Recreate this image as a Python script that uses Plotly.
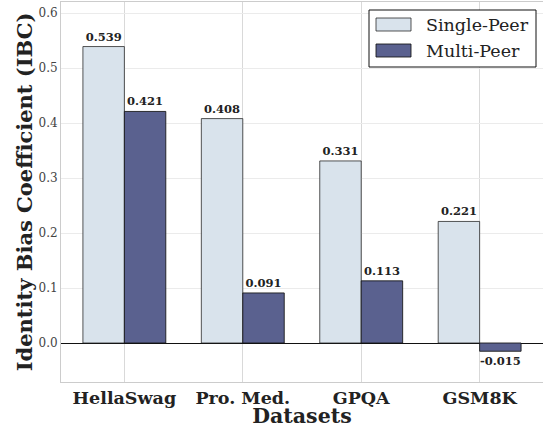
import plotly.graph_objects as go

categories = ["HellaSwag", "Pro. Med.", "GPQA", "GSM8K"]
single_peer = [0.539, 0.408, 0.331, 0.221]
multi_peer = [0.421, 0.091, 0.113, -0.015]
y_ticks = [0.0, 0.1, 0.2, 0.3, 0.4, 0.5, 0.6]
series_names = ["Single-Peer", "Multi-Peer"]
series_colors = ["#d9e3ec", "#5a618f"]

FONT = "DejaVu Serif"
W, H = 543, 428
ML, MR, MT, MB = 61, 0, 2, 46
PW, PH = W - ML - MR, H - MT - MB


def px_x(p):
    return (p - ML) / PW


def px_y(p):
    return (H - MB - p) / PH


fig = go.Figure()
for name, vals, col, edge in [
    (series_names[0], single_peer, series_colors[0], "rgba(30,30,30,0.75)"),
    (series_names[1], multi_peer, series_colors[1], "rgba(20,20,20,0.85)"),
]:
    fig.add_trace(go.Bar(
        name=name, x=categories, y=vals,
        marker=dict(color=col, line=dict(color=edge, width=1)),
        texttemplate="<b>%{y:.3f}</b>", textposition="outside",
        textfont=dict(family=FONT, size=11.5, color="#222222"), cliponaxis=False,
        showlegend=False,
    ))

# custom legend (matplotlib-like wide swatches)
shapes = [dict(type="rect", xref="paper", yref="paper",
               x0=px_x(369), x1=px_x(536), y0=px_y(67), y1=px_y(10),
               line=dict(color="#111111", width=1), fillcolor="white", layer="above")]
annotations = []
rows = [(18, 31), (44, 57)]
edges = ["rgba(30,30,30,0.75)", "rgba(20,20,20,0.85)"]
for (y0, y1), name, col, edge in zip(rows, series_names, series_colors, edges):
    shapes.append(dict(type="rect", xref="paper", yref="paper",
                       x0=px_x(376), x1=px_x(411), y0=px_y(y1), y1=px_y(y0),
                       line=dict(color=edge, width=1), fillcolor=col, layer="above"))
    annotations.append(dict(xref="paper", yref="paper", x=px_x(424), y=px_y((y0 + y1) / 2),
                            xanchor="left", yanchor="middle", text=name, showarrow=False,
                            font=dict(family=FONT, size=17.5, color="#222222")))

fig.update_layout(
    width=W, height=H,
    margin=dict(l=ML, r=MR, t=MT, b=MB),
    paper_bgcolor="white", plot_bgcolor="white",
    barmode="group", bargap=0.3, bargroupgap=0,
    font=dict(family=FONT, color="#222222"),
    showlegend=False,
    shapes=shapes, annotations=annotations,
)
fig.update_xaxes(
    tickmode="array", tickvals=categories,
    ticktext=["<b>%s</b>" % c for c in categories],
    tickfont=dict(family=FONT, size=17.5, color="#222222"),
    showgrid=True, gridcolor="#d9d9d9", gridwidth=1,
    showline=True, linecolor="#cccccc", linewidth=1, mirror=True,
    ticks="", range=[-0.535, 3.535],
    title=dict(text="<b>Datasets</b>", font=dict(family=FONT, size=20.5, color="#222222"), standoff=1),
    automargin=False,
)
fig.update_yaxes(
    range=[-0.0709, 0.62],
    tickmode="array", tickvals=y_ticks, ticktext=["%.1f" % v for v in y_ticks],
    tickfont=dict(family=FONT, size=12, color="#444444"),
    showgrid=True, gridcolor="#ebebeb", gridwidth=1,
    showline=True, linecolor="#cccccc", linewidth=1, mirror=True,
    zeroline=True, zerolinecolor="#111111", zerolinewidth=1,
    ticks="",
    title=dict(text="<b>Identity Bias Coefficient (IBC)</b>",
               font=dict(family=FONT, size=21, color="#222222"), standoff=0),
    automargin=False,
)

fig.write_html("out.html", config={"displayModeBar": False},
               post_script="document.body.style.margin='0';document.body.style.overflow='hidden';")
